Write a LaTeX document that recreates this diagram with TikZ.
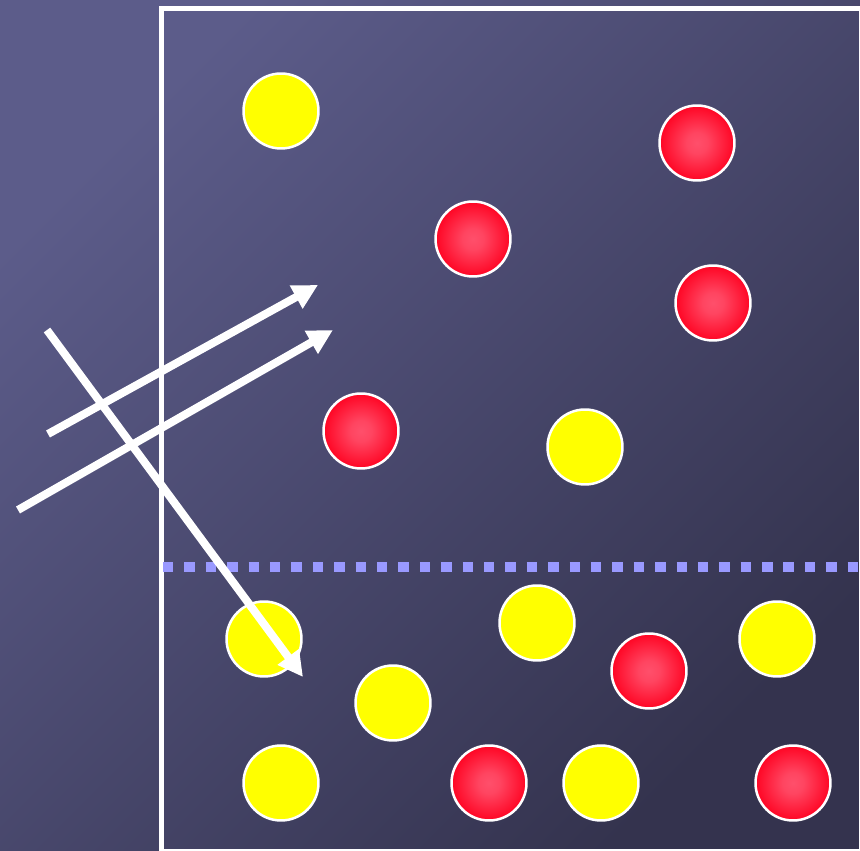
\documentclass[tikz,border=0pt]{standalone}
\usetikzlibrary{arrows.meta}
\definecolor{bgtop}{RGB}{92,92,138}
\definecolor{bgbot}{RGB}{52,51,78}
\definecolor{ballyel}{RGB}{255,255,0}
\definecolor{dotblue}{RGB}{153,153,255}
\pgfdeclareradialshading{redball}{\pgfpoint{0bp}{0bp}}{rgb(0bp)=(1,0.31,0.42); rgb(7bp)=(1,0.27,0.38); rgb(25bp)=(1,0.02,0.14); rgb(50bp)=(1,0.02,0.14)}
\begin{document}
\begin{tikzpicture}[x=0.02cm, y=-0.02cm,
  yel/.style={circle,fill=ballyel,draw=white,line width=0.05cm,minimum size=1.5cm,inner sep=0pt},
  red/.style={circle,shading=redball,draw=white,line width=0.05cm,minimum size=1.5cm,inner sep=0pt},
  ray/.style={draw=white,line width=0.16cm,-{Triangle[length=0.5cm,width=0.5cm]}}]
\useasboundingbox (0,0) rectangle (860,851);
\shade[top color=bgtop, bottom color=bgbot, shading angle=45] (0,0) rectangle (860,851);
\draw[white,line width=0.09cm] (161.5,8.5) rectangle (861,851);
\draw[dotblue,line width=0.21cm,dash pattern=on 0.21cm off 0.218cm] (163,567) -- (860,567);
% yellow balls
\node[yel] (y1) at (281,111) {};
\node[yel] (y2) at (585,447) {};
\node[yel] (y3) at (264,639) {};
\node[yel] (y4) at (537,623) {};
\node[yel] (y5) at (393,703) {};
\node[yel] (y6) at (777,639) {};
\node[yel] (y7) at (281,783) {};
\node[yel] (y8) at (601,783) {};
% red balls
\node[red] (r1) at (697,143) {};
\node[red] (r2) at (473,239) {};
\node[red] (r3) at (713,303) {};
\node[red] (r4) at (361,431) {};
\node[red] (r5) at (649,671) {};
\node[red] (r6) at (489,783) {};
\node[red] (r7) at (793,783) {};
% rays
\coordinate (a1) at (48,434);
\coordinate (b1) at (318,285);
\coordinate (a2) at (18,510);
\coordinate (b2) at (333,330);
\coordinate (a3) at (47,330);
\coordinate (b3) at (303,677);
\draw[ray] (a1) -- (b1);
\draw[ray] (a2) -- (b2);
\draw[ray] (a3) -- (b3);
\end{tikzpicture}
\end{document}
